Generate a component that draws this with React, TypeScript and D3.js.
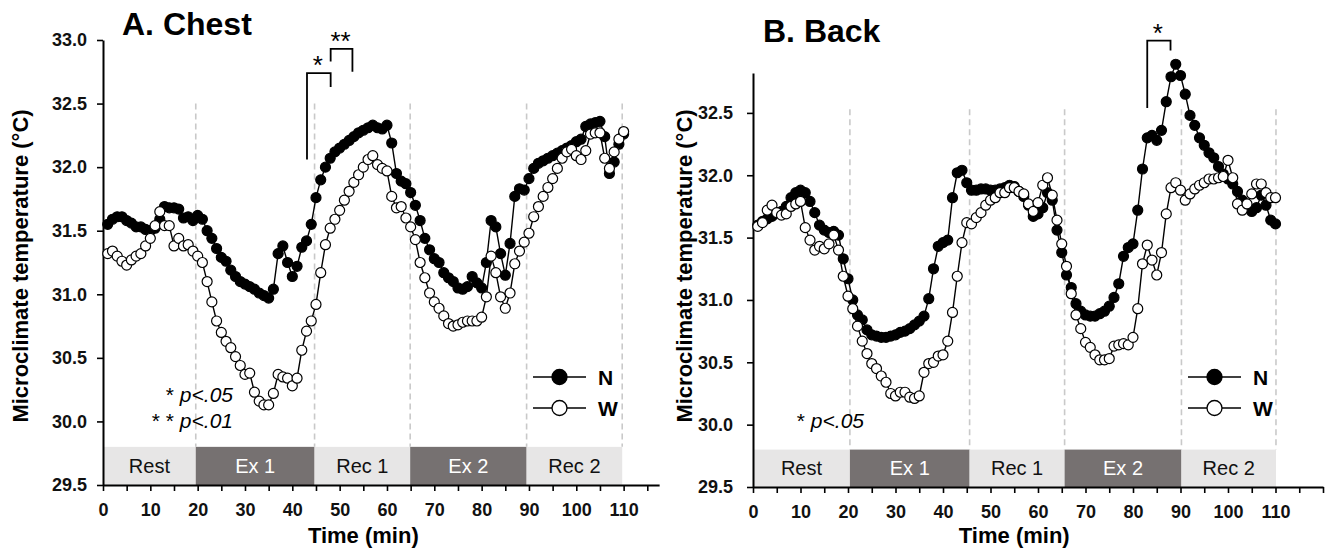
import React, { useRef, useEffect } from "react";
import * as d3 from "d3";

// minutes 1..110, one reading per minute
const minutes = d3.range(1, 111);

const chestN = [
  31.55, 31.59, 31.61, 31.61, 31.58, 31.56, 31.53, 31.53, 31.51, 31.5,
  31.52, 31.59, 31.69, 31.68, 31.68, 31.67, 31.6, 31.61, 31.58, 31.62,
  31.59, 31.5, 31.44, 31.36, 31.29, 31.26, 31.19, 31.14, 31.1, 31.08,
  31.06, 31.04, 31.01, 30.99, 30.97, 31.04, 31.32, 31.38, 31.25, 31.14,
  31.22, 31.37, 31.42, 31.55, 31.76, 31.9, 32.0, 32.07, 32.12, 32.15,
  32.18, 32.21, 32.24, 32.27, 32.29, 32.31, 32.33, 32.31, 32.3, 32.33,
  32.19, 31.95, 31.89, 31.87, 31.8, 31.7, 31.58, 31.44, 31.35, 31.28,
  31.25, 31.17, 31.13, 31.1, 31.05, 31.04, 31.06, 31.14, 31.09, 31.05,
  31.25, 31.58, 31.53, 31.32, 31.15, 31.4, 31.77, 31.83, 31.82, 31.91,
  31.99, 32.03, 32.05, 32.07, 32.09, 32.11, 32.13, 32.15, 32.17, 32.2,
  32.22, 32.32, 32.34, 32.35, 32.36, 32.24, 31.95, 32.04, 32.18, 32.26,
];

const chestW = [
  31.32, 31.34, 31.3, 31.26, 31.23, 31.27, 31.3, 31.32, 31.38, 31.44,
  31.54, 31.65, 31.54, 31.54, 31.38, 31.44, 31.38, 31.39, 31.34, 31.3,
  31.25, 31.1, 30.94, 30.79, 30.7, 30.63, 30.58, 30.51, 30.44, 30.37,
  30.38, 30.23, 30.16, 30.13, 30.13, 30.22, 30.37, 30.35, 30.34, 30.28,
  30.34, 30.56, 30.71, 30.79, 30.92, 31.17, 31.39, 31.52, 31.59, 31.66,
  31.74, 31.81, 31.88, 31.94, 32.0, 32.06, 32.09, 32.02, 31.99, 31.97,
  31.77, 31.68, 31.69, 31.6, 31.53, 31.43, 31.25, 31.13, 31.01, 30.94,
  30.89, 30.83, 30.77, 30.75, 30.76, 30.78, 30.79, 30.79, 30.79, 30.82,
  30.98, 31.3, 31.17, 30.98, 30.89, 31.01, 31.24, 31.34, 31.41, 31.48,
  31.61, 31.69, 31.77, 31.84, 31.91, 31.99, 32.07, 32.12, 32.14, 32.09,
  32.06, 32.13, 32.26, 32.27, 32.27, 32.07, 31.99, 32.12, 32.22, 32.28,
];

const backN = [
  31.6, 31.63, 31.65, 31.67, 31.7, 31.71, 31.75, 31.82, 31.86, 31.88,
  31.86, 31.79, 31.7, 31.6, 31.56, 31.54, 31.55, 31.52, 31.33, 31.17,
  31.0, 30.88, 30.84, 30.76, 30.72, 30.71, 30.7, 30.7, 30.71, 30.72,
  30.74, 30.75, 30.77, 30.8, 30.83, 30.87, 31.01, 31.25, 31.43, 31.46,
  31.48, 31.82, 32.02, 32.04, 31.94, 31.88, 31.88, 31.89, 31.89, 31.88,
  31.88, 31.89, 31.9, 31.92, 31.91, 31.87, 31.83, 31.76, 31.67, 31.69,
  31.74, 31.86, 31.8, 31.56, 31.38, 31.2, 31.1, 30.97, 30.91, 30.88,
  30.87, 30.87, 30.89, 30.91, 30.95, 31.02, 31.13, 31.35, 31.42, 31.45,
  31.72, 32.05, 32.3, 32.32, 32.28, 32.36, 32.59, 32.79, 32.89, 32.8,
  32.65, 32.48, 32.4, 32.3, 32.24, 32.18, 32.14, 32.07, 32.01, 31.97,
  31.93, 31.87, 31.8, 31.74, 31.71, 31.74, 31.84, 31.76, 31.64, 31.61,
];

const backW = [
  31.59, 31.62, 31.72, 31.76, 31.7, 31.68, 31.69, 31.75, 31.77, 31.79,
  31.58, 31.48, 31.4, 31.43, 31.41, 31.45, 31.52, 31.4, 31.19, 31.03,
  30.93, 30.79, 30.67, 30.57, 30.49, 30.45, 30.39, 30.34, 30.25, 30.23,
  30.26, 30.26, 30.22, 30.21, 30.23, 30.42, 30.49, 30.5, 30.55, 30.56,
  30.67, 30.9, 31.19, 31.46, 31.62, 31.61, 31.66, 31.7, 31.76, 31.8,
  31.82, 31.86, 31.86, 31.9, 31.9, 31.87, 31.85, 31.77, 31.71, 31.78,
  31.92, 31.98, 31.84, 31.64, 31.45, 31.27, 31.05, 30.88, 30.77, 30.66,
  30.62, 30.56, 30.52, 30.52, 30.53, 30.63, 30.64, 30.65, 30.64, 30.7,
  30.93, 31.29, 31.44, 31.32, 31.2, 31.38, 31.69, 31.9, 31.94, 31.88,
  31.8, 31.85, 31.89, 31.92, 31.94, 31.97, 31.97, 31.98, 31.99, 32.12,
  31.98, 31.77, 31.72, 31.77, 31.85, 31.93, 31.93, 31.86, 31.82, 31.82,
];

const phaseLabels = ["Rest", "Ex 1", "Rec 1", "Ex 2", "Rec 2"];
const chestPhaseEdges = [0, 19.6, 44.7, 64.9, 89.5, 109.7];
const backPhaseEdges = [0, 20.4, 45.6, 65.6, 90.2, 110.1];

const chestYTicks = [29.5, 30, 30.5, 31, 31.5, 32, 32.5, 33];
const backYTicks = [29.5, 30, 30.5, 31, 31.5, 32, 32.5];
const xLabelTicks = d3.range(0, 111, 10);

// significance brackets: [t left, t right, left leg bottom, top, right leg bottom, label]
const chestBrackets = [
  { t0: 43.1, t1: 48.1, v0: 32.06, vTop: 32.74, v1: 32.63, label: "*" },
  { t0: 48.1, t1: 52.7, v0: 32.83, vTop: 32.93, v1: 32.75, label: "**" },
];
const backBrackets = [
  { t0: 83.0, t1: 87.9, v0: 32.54, vTop: 33.08, v1: 33.0, label: "*" },
];

const FONT = "'Liberation Sans', Arial, sans-serif";

const panels = [
  {
    title: "A. Chest", titleX: 122, titleY: 35,
    n: chestN, w: chestW, edges: chestPhaseEdges, brackets: chestBrackets,
    x0: 103, pxPerMin: 4.733, xMax: 117.5,
    yMax: 33.0, yTopPx: 40, yBottomPx: 485, yTicks: chestYTicks, yPad: 10,
    dashTop: 32.5, yTitleX: 28,
    legendX: 533, legendY: 377,
    notes: [{ x: 233, y: 402, text: "* " }, { x: 233, y: 428, text: "* * " }],
    noteP: ["p<.05", "p<.01"],
  },
  {
    title: "B. Back", titleX: 763, titleY: 42,
    n: backN, w: backW, edges: backPhaseEdges, brackets: backBrackets,
    x0: 753, pxPerMin: 4.75, xMax: 120,
    yMax: 32.82, yTopPx: 73, yBottomPx: 487, yTicks: backYTicks, yPad: 14,
    dashTop: 32.53, yTitleX: 692,
    legendX: 1188, legendY: 377,
    notes: [{ x: 864, y: 428, text: "* " }],
    noteP: ["p<.05"],
  },
];

const App = () => {
  const svgRef = useRef(null);

  useEffect(() => {
    const svg = d3.select(svgRef.current);
    svg.selectAll("*").remove();

    panels.forEach((p) => {
      const x = d3
        .scaleLinear()
        .domain([0, p.xMax])
        .range([p.x0, p.x0 + p.xMax * p.pxPerMin]);
      const y = d3
        .scaleLinear()
        .domain([29.5, p.yMax])
        .range([p.yBottomPx, p.yTopPx]);
      const g = svg.append("g").style("font-family", FONT);

      // phase bars along the bottom
      const barTop = 29.8;
      g.selectAll("rect.phase")
        .data(phaseLabels)
        .enter()
        .append("rect")
        .attr("x", (d, i) => x(p.edges[i]))
        .attr("width", (d, i) => x(p.edges[i + 1]) - x(p.edges[i]))
        .attr("y", y(barTop))
        .attr("height", y(29.5) - y(barTop))
        .attr("fill", (d, i) => (i % 2 ? "#767171" : "#e7e6e6"));

      g.selectAll("text.phase")
        .data(phaseLabels)
        .enter()
        .append("text")
        .attr("x", (d, i) => (x(p.edges[i]) + x(p.edges[i + 1])) / 2)
        .attr("y", y(29.5) - 12)
        .attr("text-anchor", "middle")
        .style("font-size", "20px")
        .attr("fill", (d, i) => (i % 2 ? "#ffffff" : "#111111"))
        .text((d) => d);

      // dashed phase boundaries
      g.selectAll("line.edge")
        .data(p.edges.slice(1))
        .enter()
        .append("line")
        .attr("x1", (d) => x(d))
        .attr("x2", (d) => x(d))
        .attr("y1", y(p.dashTop))
        .attr("y2", y(barTop))
        .attr("stroke", "#c9c9c9")
        .attr("stroke-width", 1.6)
        .attr("stroke-dasharray", "6,4");

      // axes
      const yAxis = d3
        .axisLeft(y)
        .tickValues(p.yTicks)
        .tickSize(6)
        .tickSizeOuter(0)
        .tickPadding(p.yPad)
        .tickFormat(d3.format(".1f"));
      const ya = g
        .append("g")
        .attr("transform", `translate(${p.x0},0)`)
        .call(yAxis);

      const xAxis = d3
        .axisBottom(x)
        .tickValues(d3.range(0, p.xMax + 0.01, 5))
        .tickSize(6)
        .tickSizeOuter(0)
        .tickPadding(12)
        .tickFormat((d) => (xLabelTicks.includes(+d) ? String(d) : ""));
      const xa = g
        .append("g")
        .attr("transform", `translate(0,${p.yBottomPx})`)
        .call(xAxis);

      [ya, xa].forEach((a) => {
        a.select(".domain").attr("stroke", "#000").attr("stroke-width", 2);
        a.selectAll(".tick line").attr("stroke", "#000").attr("stroke-width", 1.6);
        a.selectAll(".tick text")
          .attr("fill", "#111")
          .style("font-family", FONT)
          .style("font-size", "18px")
          .style("font-weight", "bold");
      });

      // axis titles
      g.append("text")
        .attr("transform", `translate(${p.yTitleX},266) rotate(-90)`)
        .attr("text-anchor", "middle")
        .style("font-size", "22px")
        .style("font-weight", "bold")
        .text("Microclimate temperature (°C)");

      g.append("text")
        .attr("x", x(55))
        .attr("y", 543)
        .attr("text-anchor", "middle")
        .style("font-size", "22px")
        .style("font-weight", "bold")
        .text("Time (min)");

      // title
      g.append("text")
        .attr("x", p.titleX)
        .attr("y", p.titleY)
        .style("font-size", "32px")
        .style("font-weight", "bold")
        .text(p.title);

      // series
      const line = d3
        .line()
        .x((d, i) => x(minutes[i]))
        .y((d) => y(d));

      const series = [
        { values: p.n, fill: "#000000" },
        { values: p.w, fill: "#ffffff" },
      ];

      series.forEach((s) => {
        g.append("path")
          .datum(s.values)
          .attr("fill", "none")
          .attr("stroke", "#000")
          .attr("stroke-width", 1.4)
          .attr("d", line);
      });

      series.forEach((s) => {
        g.append("g")
          .selectAll("circle")
          .data(s.values)
          .enter()
          .append("circle")
          .attr("cx", (d, i) => x(minutes[i]))
          .attr("cy", (d) => y(d))
          .attr("r", 5)
          .attr("fill", s.fill)
          .attr("stroke", "#000")
          .attr("stroke-width", 1.2);
      });

      // significance brackets
      p.brackets.forEach((b) => {
        g.append("path")
          .attr(
            "d",
            `M${x(b.t0)},${y(b.v0)}V${y(b.vTop)}H${x(b.t1)}V${y(b.v1)}`
          )
          .attr("fill", "none")
          .attr("stroke", "#000")
          .attr("stroke-width", 1.8);
        g.append("text")
          .attr("x", (x(b.t0) + x(b.t1)) / 2 - 1)
          .attr("y", y(b.vTop) + 1)
          .attr("text-anchor", "middle")
          .style("font-size", "26px")
          .text(b.label);
      });

      // p-value notes
      p.notes.forEach((nt, i) => {
        const t = g
          .append("text")
          .attr("x", nt.x)
          .attr("y", nt.y)
          .attr("text-anchor", "end")
          .style("font-size", "21px");
        t.append("tspan").text(nt.text);
        t.append("tspan").style("font-style", "italic").text(p.noteP[i]);
      });

      // legend
      [
        { label: "N", fill: "#000000", dy: 0 },
        { label: "W", fill: "#ffffff", dy: 31 },
      ].forEach((l) => {
        const ly = p.legendY + l.dy;
        g.append("line")
          .attr("x1", p.legendX)
          .attr("x2", p.legendX + 53)
          .attr("y1", ly)
          .attr("y2", ly)
          .attr("stroke", "#000")
          .attr("stroke-width", 1.5);
        g.append("circle")
          .attr("cx", p.legendX + 26.5)
          .attr("cy", ly)
          .attr("r", 7.5)
          .attr("fill", l.fill)
          .attr("stroke", "#000")
          .attr("stroke-width", 1.3);
        g.append("text")
          .attr("x", p.legendX + 65)
          .attr("y", ly + 7.5)
          .style("font-size", "21px")
          .style("font-weight", "bold")
          .text(l.label);
      });
    });
  }, []);

  return (
    <svg
      ref={svgRef}
      width={1330}
      height={551}
      style={{ position: "absolute", left: 0, top: 0, background: "#fff" }}
    ></svg>
  );
};

export default App;
